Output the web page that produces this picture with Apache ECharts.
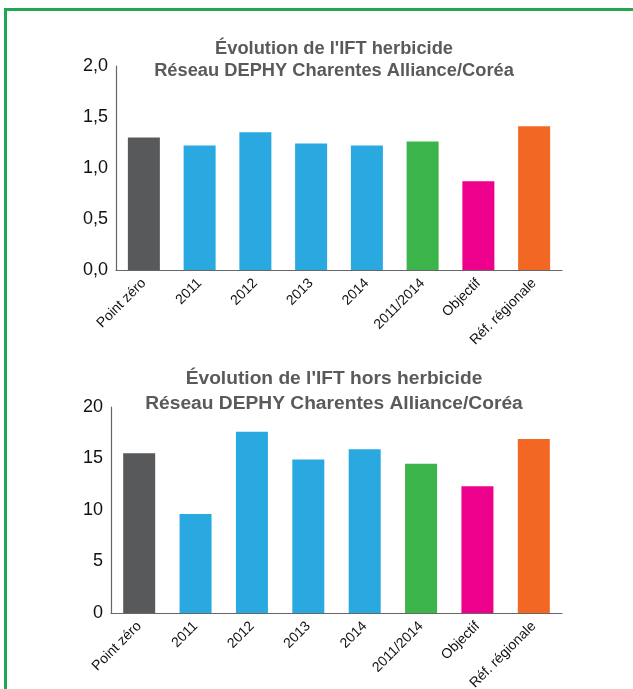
<!DOCTYPE html>
<html>
<head>
<meta charset="utf-8">
<script src="https://cdn.jsdelivr.net/npm/echarts@6/dist/echarts.min.js"></script>
<style>
html,body{margin:0;padding:0;background:#fff;}
#c{width:633px;height:689px;}
</style>
</head>
<body>
<div id="c"></div>
<script>
const categories = ['Point zéro','2011','2012','2013','2014','2011/2014','Objectif','Réf. régionale'];
const herbicideValues = [1.30, 1.22, 1.35, 1.24, 1.22, 1.26, 0.87, 1.41];
const horsHerbicideValues = [15.5, 9.6, 17.6, 14.9, 15.9, 14.5, 12.3, 16.9];
const barColors = ['#58595b','#29a9e0','#29a9e0','#29a9e0','#29a9e0','#3bb44a','#ec008c','#f26724'];
const title1 = "Évolution de l'IFT herbicide\nRéseau DEPHY Charentes Alliance/Coréa";
const title2 = "Évolution de l'IFT hors herbicide\nRéseau DEPHY Charentes Alliance/Coréa";

const font = 'Liberation Sans, Arial, Helvetica, sans-serif';
const chart = echarts.init(document.getElementById('c'), null, {renderer:'canvas'});

function colored(vals){
  return vals.map((v,i)=>({value:v, itemStyle:{color:barColors[i]}}));
}
const axisLineStyle = {show:true, lineStyle:{color:'#666666', width:1.2}};
const xLabel = {rotate:45, fontSize:14, color:'#111', fontFamily:font, interval:0, margin:11};

chart.setOption({
  animation:false,
  backgroundColor:'#fff',
  title:[
    {text:title1, left:329, top:33, textAlign:'center',
     textStyle:{fontFamily:font, fontWeight:'bold', fontSize:18.3, color:'#5a5a5c', lineHeight:22}},
    {text:title2, left:329, top:361, textAlign:'center',
     textStyle:{fontFamily:font, fontWeight:'bold', fontSize:19.2, color:'#5a5a5c', lineHeight:25}}
  ],
  grid:[
    {left:116, right:71, top:66, height:204, outerBoundsMode:'none', containLabel:false},
    {left:111, right:71, top:407, height:206, outerBoundsMode:'none', containLabel:false}
  ],
  xAxis:[
    {type:'category', gridIndex:0, data:categories, axisLine:axisLineStyle, axisTick:{show:false}, axisLabel:xLabel},
    {type:'category', gridIndex:1, data:categories, axisLine:axisLineStyle, axisTick:{show:false}, axisLabel:xLabel}
  ],
  yAxis:[
    {type:'value', gridIndex:0, min:0, max:2, interval:0.5, splitLine:{show:false}, axisLine:axisLineStyle, axisTick:{show:false},
     axisLabel:{fontSize:18, color:'#111', fontFamily:font, margin:8, formatter:v=>v.toFixed(1).replace('.',',')}},
    {type:'value', gridIndex:1, min:0, max:20, interval:5, splitLine:{show:false}, axisLine:axisLineStyle, axisTick:{show:false},
     axisLabel:{fontSize:18, color:'#111', fontFamily:font, margin:8}}
  ],
  series:[
    {type:'bar', xAxisIndex:0, yAxisIndex:0, data:colored(herbicideValues), barWidth:32},
    {type:'bar', xAxisIndex:1, yAxisIndex:1, data:colored(horsHerbicideValues), barWidth:32}
  ],
  graphic:[
    {type:'rect', shape:{x:5.5, y:9.5, width:700, height:800}, style:{fill:'none', stroke:'#1fa84f', lineWidth:3}, silent:true}
  ]
});
</script>
</body>
</html>
